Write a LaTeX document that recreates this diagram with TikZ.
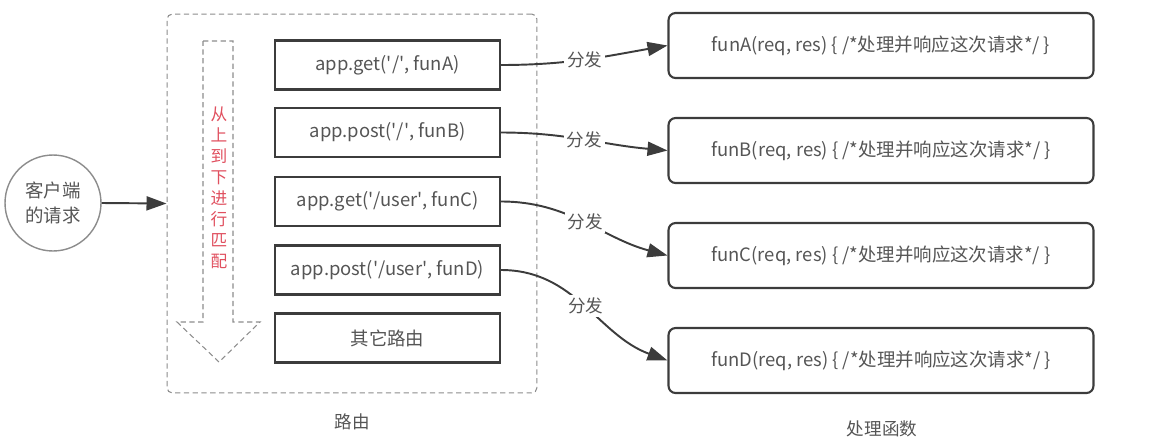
\documentclass[tikz,border=0pt]{standalone}
\usepackage{fontspec}
\setmainfont{Noto Sans CJK SC}
\usetikzlibrary{arrows.meta}
\definecolor{linegray}{HTML}{3C3C3C}
\definecolor{textgray}{HTML}{555555}
\definecolor{dashgray}{HTML}{8C8C8C}
\definecolor{matchred}{HTML}{E0505F}
\newcommand{\sqt}{\textquotesingle}

\begin{document}
\begin{tikzpicture}[x=0.02cm, y=-0.02cm,
	client/.style={circle, draw=dashgray, line width=0.8pt, minimum size=1.92cm, inner sep=0pt, align=center, text=textgray, font=\fontsize{10.5}{14}\selectfont},
	router/.style={draw=dashgray, dashed, dash pattern=on 3pt off 2pt, line width=0.6pt, rounded corners=3pt, minimum width=7.4cm, minimum height=7.58cm, inner sep=0pt},
	route/.style={draw=linegray, line width=1.2pt, minimum width=4.5cm, minimum height=0.98cm, inner sep=0pt, text=textgray, font=\fontsize{10.5}{13}\selectfont},
	handler/.style={draw=linegray, line width=1.2pt, rounded corners=4pt, minimum width=8.5cm, minimum height=1.3cm, inner sep=0pt, text=textgray, font=\fontsize{10.5}{13}\selectfont},
	dispatch/.style={-{Triangle[length=4mm, width=2.8mm]}, line width=1.1pt, draw=linegray},
	tag/.style={fill=white, inner sep=1.5pt, text=textgray, font=\fontsize{10}{12}\selectfont},
	caption/.style={text=textgray, font=\fontsize{10}{12}\selectfont}]
	\useasboundingbox (0,0) rectangle (1155,443);
	% client and router frame
	\node[client] (client) at (53,203) {客户端\\的请求};
	\node[router] (router) at (352,203.5) {};
	\draw[dispatch] (client.east) -- (router.west);
	% matching direction
	\draw[draw=dashgray, dashed, dash pattern=on 3pt off 2pt, line width=0.6pt]
		(203,41) -- (233,41) -- (233,322) -- (260,322) -- (219,362) -- (177,322) -- (203,322) -- cycle;
	\node[text=matchred, align=center, font=\fontsize{9.5}{12}\selectfont] (order) at (219,188)
		{从\\上\\到\\下\\进\\行\\匹\\配};
	% routes
	\node[route] (r1) at (387.5,65) {app.get(\sqt/\sqt, funA)};
	\node[route] (r2) at (387.5,132.5) {app.post(\sqt/\sqt, funB)};
	\node[route] (r3) at (387.5,201.5) {app.get(\sqt/user\sqt, funC)};
	\node[route] (r4) at (387.5,270) {app.post(\sqt/user\sqt, funD)};
	\node[route] (r5) at (387.5,338) {其它路由};
	% handlers
	\node[handler] (h1) at (881,45.5) {funA(req, res) \{ /*处理并响应这次请求*/ \}};
	\node[handler] (h2) at (881,150.5) {funB(req, res) \{ /*处理并响应这次请求*/ \}};
	\node[handler] (h3) at (881,255.5) {funC(req, res) \{ /*处理并响应这次请求*/ \}};
	\node[handler] (h4) at (881,360.5) {funD(req, res) \{ /*处理并响应这次请求*/ \}};
	\draw[dispatch] (r1.east) to[out=0, in=190] node[tag] {分发} (h1.west);
	\draw[dispatch] (r2.east) to[out=0, in=175] node[tag] {分发} (h2.west);
	\draw[dispatch] (r3.east) to[out=0, in=165] node[tag] {分发} (h3.west);
	\draw[dispatch] (r4.east) to[out=0, in=160] node[tag] {分发} (h4.west);
	% captions
	\node[caption] (routecap) at (352,422) {路由};
	\node[caption] (handlercap) at (882,429) {处理函数};
\end{tikzpicture}
\end{document}
